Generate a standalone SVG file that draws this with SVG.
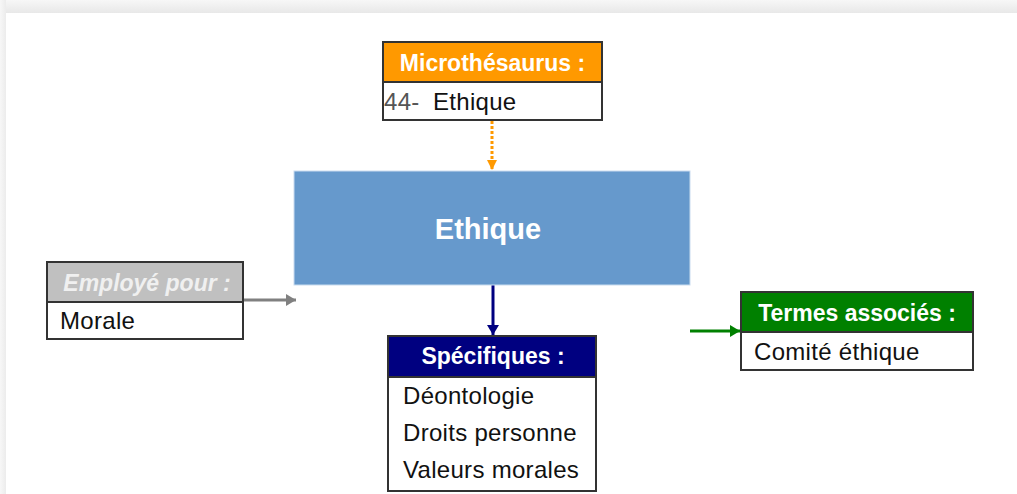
<svg xmlns="http://www.w3.org/2000/svg" width="1017" height="494" viewBox="0 0 1017 494">
<defs>
<linearGradient id="gTop" x1="0" y1="0" x2="0" y2="1"><stop offset="0" stop-color="#f7f7f7"/><stop offset="1" stop-color="#e8e8e8"/></linearGradient>
<linearGradient id="gLeft" x1="0" y1="0" x2="1" y2="0"><stop offset="0" stop-color="#f7f7f7"/><stop offset="1" stop-color="#ececec"/></linearGradient>
<marker id="aOr" markerWidth="12" markerHeight="10" refX="10" refY="5" orient="auto" markerUnits="userSpaceOnUse"><path d="M0,0 L10,5 L0,10 Z" fill="#FF9900"/></marker>
<marker id="aNv" markerWidth="12" markerHeight="12" refX="10" refY="6" orient="auto" markerUnits="userSpaceOnUse"><path d="M0,0 L10,6 L0,12 Z" fill="#000080"/></marker>
<marker id="aGy" markerWidth="12" markerHeight="12" refX="10" refY="6" orient="auto" markerUnits="userSpaceOnUse"><path d="M0,0 L10,6 L0,12 Z" fill="#808080"/></marker>
<marker id="aGn" markerWidth="12" markerHeight="12" refX="10" refY="6" orient="auto" markerUnits="userSpaceOnUse"><path d="M0,0 L10,6 L0,12 Z" fill="#008000"/></marker>
</defs>
<style>
.box{fill:#fff;stroke:#333;stroke-width:2}
.hd{stroke:#333;stroke-width:2}
.ht{font-family:"Liberation Sans",Arial,sans-serif;font-size:23px;font-weight:bold;fill:#fff}
.hi{font-family:"Liberation Sans",Arial,sans-serif;font-size:23px;font-style:italic;font-weight:bold;fill:#f0f0f0}
.bt{font-family:"Liberation Sans",Arial,sans-serif;font-size:24px;letter-spacing:0.3px;fill:#111}
</style>
<rect width="1017" height="494" fill="#fff"/>
<rect x="0" y="0" width="1017" height="13" fill="url(#gTop)"/>
<rect x="0" y="0" width="6" height="494" fill="url(#gLeft)"/>
<g id="connectors">
<line x1="492" y1="121" x2="492" y2="170" stroke="#FF9900" stroke-width="3" stroke-dasharray="3,2" marker-end="url(#aOr)"/>
<line x1="493" y1="285" x2="493" y2="335" stroke="#000080" stroke-width="3" marker-end="url(#aNv)"/>
<line x1="244" y1="300" x2="296" y2="300" stroke="#808080" stroke-width="3" marker-end="url(#aGy)"/>
<line x1="690" y1="331" x2="740" y2="331" stroke="#008000" stroke-width="3" marker-end="url(#aGn)"/>
</g>
<g id="microthesaurus">
<rect class="box" x="383" y="42" width="219" height="78"/>
<rect class="hd" x="383" y="42" width="219" height="40" fill="#FF9900"/>
<text class="ht" x="492.5" y="71" text-anchor="middle">Microthésaurus :</text>
<text class="bt" x="384" y="110"><tspan fill="#555">44-</tspan><tspan x="433">Ethique</tspan></text>
</g>
<g id="ethique">
<rect x="294" y="171" width="396" height="114" fill="#6699CC" stroke="#c9dcef" stroke-width="1"/>
<text x="488" y="239" text-anchor="middle" font-family="'Liberation Sans',Arial,sans-serif" font-size="29" font-weight="bold" fill="#fff">Ethique</text>
</g>
<g id="employe">
<rect class="box" x="47" y="262" width="196" height="77"/>
<rect class="hd" x="47" y="262" width="196" height="40" fill="#C0C0C0"/>
<text class="hi" x="147" y="291" text-anchor="middle">Employé pour :</text>
<text class="bt" x="60" y="329">Morale</text>
</g>
<g id="specifiques">
<rect class="box" x="388" y="336" width="208" height="155"/>
<rect class="hd" x="388" y="336" width="208" height="41" fill="#000080"/>
<text class="ht" x="493" y="364" text-anchor="middle">Spécifiques :</text>
<text class="bt" x="403" y="404">Déontologie</text>
<text class="bt" x="403" y="441">Droits personne</text>
<text class="bt" x="403" y="478">Valeurs morales</text>
</g>
<g id="termes">
<rect class="box" x="741" y="292" width="232" height="78"/>
<rect class="hd" x="741" y="292" width="232" height="40" fill="#008000"/>
<text class="ht" x="857" y="321" text-anchor="middle">Termes associés :</text>
<text class="bt" x="754" y="360">Comité éthique</text>
</g>
</svg>
